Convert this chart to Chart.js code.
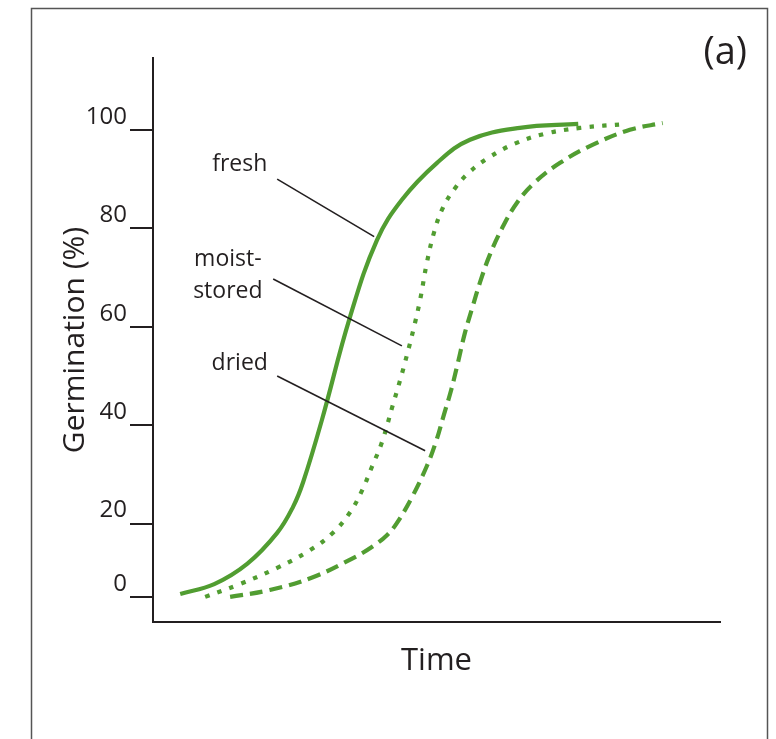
<!DOCTYPE html>
<html>
<head>
<meta charset="utf-8">
<script src="https://cdn.jsdelivr.net/npm/chart.js@4/dist/chart.umd.min.js"></script>
<style>
  html, body { margin: 0; padding: 0; background: #fff; }
  #wrap { width: 776px; height: 739px; }
</style>
</head>
<body>
<div id="wrap"><canvas id="myChart" width="776" height="739"></canvas></div>
<script>
// curves (time in arbitrary units 0-100)
let freshX = [4.8, 10.8, 16.6, 21.9, 24.7, 26.5, 29.8, 34.7, 39.5, 43.9, 50.1, 55.9, 64.7, 75.0];
let freshY = [5.7, 7.7, 11.8, 18.1, 23.4, 28.5, 41.1, 61.8, 77.6, 85.8, 93.3, 98.0, 100.4, 101.2];

let moistX = [9.2, 15.3, 21.9, 27.7, 31.7, 34.7, 36.9, 38.6, 40.4, 42.3, 43.6, 44.8, 45.9, 47.1, 48.3, 49.6, 51.1, 53.3, 55.9, 59.4, 63.8, 69.1, 75.3, 83.6];
let moistY = [5.1, 7.7, 11.0, 14.6, 18.1, 22.2, 26.8, 31.5, 36.6, 44.1, 49.2, 54.3, 59.3, 65.4, 73.0, 79.3, 84.1, 88.2, 91.5, 94.5, 97.2, 99.2, 100.4, 101.2];

let driedX = [13.6, 20.6, 28.2, 35.3, 38.8, 41.3, 43.0, 45.7, 48.3, 49.9, 51.3, 52.6, 53.8, 55.0, 56.3, 57.7, 59.4, 61.6, 64.2, 67.4, 71.8, 77.6, 84.1, 89.9];
let driedY = [5.1, 6.5, 9.1, 13.0, 15.4, 17.7, 20.1, 25.4, 31.7, 36.6, 42.1, 47.2, 52.8, 58.7, 63.8, 69.1, 74.6, 80.1, 85.2, 89.4, 93.3, 97.0, 100.0, 101.4];

// y ticks: the "0" mark sits a little above the axis line
let tickValues = [5, 20, 40, 60, 80, 100];
let tickLabels = ["0", "20", "40", "60", "80", "100"];

// callouts: label text, label position, leader line from/to (data units)
let calloutText = [["fresh"], ["moist-", "stored"], ["dried"]];
let calloutPos = [[15.3, 92.9], [13.2, 73.6], [15.3, 52.6]];
let leaderFrom = [[21.9, 90.0], [21.2, 69.7], [21.9, 50.0]];
let leaderTo = [[39.0, 78.3], [43.9, 56.1], [48.0, 34.8]];

const green = "#519d31";
const ink = "#231f20";

function pts(xs, ys) {
  return xs.map((x, i) => ({ x: x, y: ys[i] }));
}

const extras = {
  id: "extras",
  afterDraw(chart) {
    const ctx = chart.ctx;
    const xs = chart.scales.x;
    const ys = chart.scales.y;
    ctx.save();
    // frame
    ctx.strokeStyle = "#555";
    ctx.lineWidth = 1.5;
    ctx.strokeRect(31.5, 8.5, 736, 800);
    // panel letter
    ctx.fillStyle = ink;
    ctx.font = "38px 'Open Sans'";
    ctx.textAlign = "right";
    ctx.textBaseline = "middle";
    ctx.fillText("(a)", 747, 53);
    // leader lines
    ctx.strokeStyle = ink;
    ctx.lineWidth = 1.6;
    leaderFrom.forEach((f, i) => {
      ctx.beginPath();
      ctx.moveTo(xs.getPixelForValue(f[0]), ys.getPixelForValue(f[1]));
      ctx.lineTo(xs.getPixelForValue(leaderTo[i][0]), ys.getPixelForValue(leaderTo[i][1]));
      ctx.stroke();
    });
    // callout labels
    ctx.font = "23px 'Open Sans'";
    ctx.textAlign = "center";
    calloutText.forEach((lines, i) => {
      let px = xs.getPixelForValue(calloutPos[i][0]);
      let py = ys.getPixelForValue(calloutPos[i][1]);
      lines.forEach((t, j) => ctx.fillText(t, px, py + j * 32));
    });
    ctx.restore();
  },
};

var ctx = document.getElementById("myChart");

var myChart = new Chart(ctx, {
  type: "line",
  data: {
    datasets: [
      { label: "fresh", data: pts(freshX, freshY), borderDash: [] },
      { label: "moist-stored", data: pts(moistX, moistY), borderDash: [4.5, 8.3] },
      { label: "dried", data: pts(driedX, driedY), borderDash: [13, 7] },
    ].map((d) => Object.assign(d, {
      borderColor: green,
      borderWidth: 4.2,
      borderCapStyle: "butt",
      pointRadius: 0,
      fill: false,
      tension: 0.4,
    })),
  },
  options: {
    responsive: false,
    animation: false,
    layout: { padding: { top: 58, right: 56, left: 0, bottom: 0 } },
    plugins: {
      legend: { display: false },
      tooltip: { enabled: false },
    },
    scales: {
      x: {
        type: "linear",
        min: 0,
        max: 100,
        afterFit: (s) => { s.height = 117; },
        border: { display: true, color: ink, width: 2 },
        grid: { display: false },
        ticks: { display: false },
        title: {
          display: true,
          text: "Time",
          color: ink,
          font: { family: "'Open Sans'", size: 31 },
          padding: { top: 0, bottom: 59 },
        },
      },
      y: {
        min: 0,
        max: 114.6,
        afterFit: (s) => { s.width = 153; },
        afterBuildTicks: (s) => { s.ticks = tickValues.map((v) => ({ value: v })); },
        border: { display: true, color: ink, width: 2 },
        grid: { drawOnChartArea: false, drawTicks: true, tickLength: 23, color: ink, lineWidth: 2 },
        ticks: {
          color: ink,
          padding: 3,
          labelOffset: -13,
          font: { family: "'Open Sans'", size: 24 },
          callback: (v) => tickLabels[tickValues.indexOf(v)],
        },
        title: {
          display: true,
          text: "Germination (%)",
          color: ink,
          font: { family: "'Open Sans'", size: 30 },
          padding: { top: 57, bottom: 0 },
        },
      },
    },
  },
  plugins: [extras],
});
</script>
</body>
</html>
